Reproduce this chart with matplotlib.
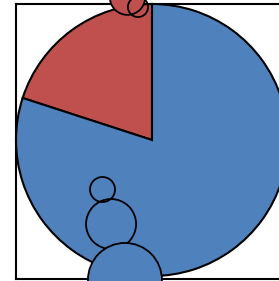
import matplotlib
matplotlib.use('Agg')
import matplotlib.pyplot as plt
from matplotlib.patches import Circle

# pie data
labels = ['Red', 'Blue']
values = [20, 80]
colors = ['#C0504D', '#4F81BD']

# extra bubbles (x, y, radius, fill) in data units
bubble_x = [-0.364, -0.301, -0.199, -0.18, -0.103]
bubble_y = [-0.364, -0.618, -1.029, 1.05, 0.978]
bubble_r = [0.092, 0.184, 0.272, 0.13, 0.074]
bubble_fill = ['none', 'none', '#4F81BD', '#C0504D', 'none']

fig = plt.figure(figsize=(2.79, 2.81), dpi=100)
ax = fig.add_axes([16 / 279, 2 / 281, 275 / 279, 275 / 281])

ax.pie(values, colors=colors, startangle=90, counterclock=True,
       wedgeprops=dict(edgecolor='black', linewidth=1.5))

for x, y, r, fc in zip(bubble_x, bubble_y, bubble_r, bubble_fill):
    ax.add_patch(Circle((x, y), r, facecolor=fc, edgecolor='black',
                        linewidth=1.3, clip_on=False, zorder=3))

ax.set_xlim(-1, 1.022)
ax.set_ylim(-1.022, 1)
ax.set_aspect('auto')
ax.set_xticks([])
ax.set_yticks([])
ax.set_frame_on(True)
for s in ax.spines.values():
    s.set_visible(True)
    s.set_linewidth(1.5)
    s.set_color('black')

plt.savefig('out.png', dpi=100)
plt.close()
